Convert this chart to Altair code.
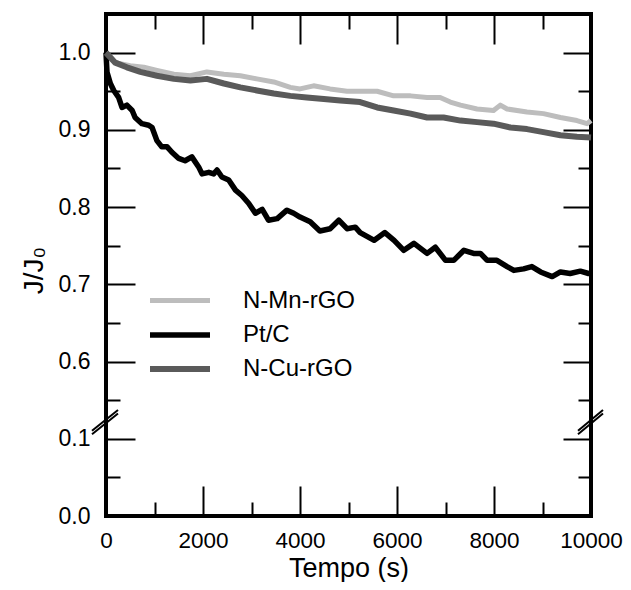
import altair as alt
import pandas as pd

# ---- data ----
t_mn = [0, 190, 500, 780, 1050, 1400, 1740, 2080, 2430, 2770, 3110, 3460, 3800, 4000,
        4280, 4620, 4970, 5240, 5590, 5930, 6280, 6620, 6890, 7100, 7310, 7650, 7990,
        8130, 8270, 8680, 9020, 9370, 9710, 9920, 10000]
v_mn = [1.000, 0.987, 0.983, 0.981, 0.977, 0.972, 0.970, 0.975, 0.972, 0.970, 0.966,
        0.962, 0.955, 0.953, 0.957, 0.953, 0.950, 0.950, 0.950, 0.944, 0.944, 0.942,
        0.942, 0.936, 0.932, 0.927, 0.925, 0.932, 0.927, 0.923, 0.921, 0.916, 0.912,
        0.908, 0.912]

t_pt = [0, 20, 90, 160, 260, 330, 430, 540, 600, 740, 880, 950, 1050, 1150, 1260, 1360,
        1500, 1630, 1770, 1910, 1980, 2120, 2220, 2290, 2390, 2530, 2670, 2800, 2940,
        3080, 3220, 3350, 3530, 3730, 3870, 4000, 4210, 4410, 4620, 4800, 4970, 5140,
        5240, 5530, 5750, 5940, 6140, 6350, 6620, 6790, 7000, 7170, 7380, 7580, 7720,
        7860, 8060, 8270, 8410, 8610, 8780, 8960, 9200, 9370, 9570, 9780, 9950, 10000]
v_pt = [1.000, 0.975, 0.960, 0.951, 0.942, 0.929, 0.932, 0.925, 0.916, 0.908, 0.906,
        0.903, 0.886, 0.878, 0.878, 0.871, 0.863, 0.860, 0.865, 0.852, 0.843, 0.845,
        0.843, 0.848, 0.839, 0.835, 0.822, 0.815, 0.805, 0.792, 0.797, 0.783, 0.785,
        0.796, 0.792, 0.787, 0.781, 0.769, 0.772, 0.783, 0.772, 0.774, 0.767, 0.757,
        0.767, 0.757, 0.744, 0.753, 0.740, 0.748, 0.731, 0.731, 0.744, 0.740, 0.740,
        0.731, 0.731, 0.723, 0.718, 0.720, 0.723, 0.716, 0.710, 0.716, 0.714, 0.717,
        0.714, 0.714]

t_cu = [0, 190, 430, 710, 1050, 1400, 1740, 2080, 2430, 2770, 3110, 3460, 3800, 4140,
        4490, 4830, 5240, 5590, 5930, 6280, 6620, 6960, 7310, 7650, 7990, 8340, 8680,
        9020, 9370, 9710, 10000]
v_cu = [1.000, 0.987, 0.981, 0.975, 0.970, 0.966, 0.964, 0.966, 0.960, 0.955, 0.951,
        0.947, 0.944, 0.942, 0.940, 0.938, 0.936, 0.929, 0.925, 0.921, 0.916, 0.916,
        0.912, 0.910, 0.908, 0.903, 0.901, 0.897, 0.893, 0.891, 0.890]

series = ["N-Mn-rGO", "Pt/C", "N-Cu-rGO"]
colors = ["#bdbdbd", "#000000", "#5a5a5a"]
widths = [5, 6, 4.5]

# broken axis: positions >= 0.55 are true values, the lower segment is shifted by +0.4
x_major = [0, 2000, 4000, 6000, 8000, 10000]
x_minor = [1000, 3000, 5000, 7000, 9000]
y_major = [0.4, 0.5, 0.6, 0.7, 0.8, 0.9, 1.0]
y_minor = [0.45, 0.55, 0.65, 0.75, 0.85, 0.95]
break_y1 = [0.5104, 0.5059]
break_y2 = [0.5373, 0.5328]

rows = []
for name, ts, vs in [(series[0], t_mn, v_mn), (series[1], t_pt, v_pt), (series[2], t_cu, v_cu)]:
    for t, v in zip(ts, vs):
        rows.append({"series": name, "t": t, "v": v})
df = pd.DataFrame(rows)
brk = pd.DataFrame({"y1": break_y1, "y2": break_y2})

FONT = "Liberation Sans, Arial, Helvetica, sans-serif"
W, H = 485, 502
xs = alt.Scale(domain=[0, 10000], nice=False, padding=0)
ys = alt.Scale(domain=[0.4, 1.05], nice=False, zero=False)

lines = alt.Chart(df).mark_line(strokeJoin="round").encode(
    x=alt.X("t:Q", scale=xs, axis=alt.Axis(
        orient="bottom", values=x_major, ticks=False, tickSize=0, labelPadding=13,
        labelFlush=False, labelOverlap=False,
        format="d", labelFontSize=22.5, title="Tempo (s)", titleFontSize=27,
        titleFontWeight="normal", titleBaseline="alphabetic", titleY=60)),
    y=alt.Y("v:Q", scale=ys, axis=alt.Axis(
        orient="left", values=y_major, ticks=False, tickSize=0, labelPadding=16,
        labelFontSize=23, labelFlush=False, labelOverlap=False,
        labelExpr="datum.value < 0.45 ? '0.0' : (datum.value < 0.55 ? '0.1' : format(datum.value, '.1f'))",
        title="J/J₀", titleFontSize=28, titleFontWeight="normal", titlePadding=10,
        titleY=256)),
    color=alt.Color("series:N", scale=alt.Scale(domain=series, range=colors),
                    legend=alt.Legend(title=None, orient="none", legendX=61, legendY=274,
                                      symbolType="M-3,0H3", symbolSize=400,
                                      symbolStrokeWidth=5, labelFontSize=24,
                                      labelOffset=50, rowPadding=9, padding=0,
                                      labelColor="black", direction="vertical")),
    strokeWidth=alt.StrokeWidth("series:N", scale=alt.Scale(domain=series, range=widths),
                                legend=None),
)


def tick_layer(xvals, yvals, xlen, ylen, xorient, yorient):
    return alt.Chart(df).mark_point(opacity=0).encode(
        x=alt.X("t:Q", scale=xs, title=None, axis=alt.Axis(
            orient=xorient, values=xvals, offset=-xlen, tickSize=xlen, labels=False,
            tickWidth=2, tickColor="black")),
        y=alt.Y("v:Q", scale=ys, title=None, axis=alt.Axis(
            orient=yorient, values=yvals, offset=-ylen, tickSize=ylen, labels=False,
            tickWidth=2, tickColor="black")),
    )


ticks_bl_major = tick_layer(x_major, y_major, 30, 29, "bottom", "left")
ticks_bl_minor = tick_layer(x_minor, y_minor, 14, 14, "bottom", "left")
ticks_tr_major = tick_layer(x_major, y_major, 30, 28, "top", "right")
ticks_tr_minor = tick_layer(x_minor, y_minor, 15, 13, "top", "right")

left_break = alt.Chart(brk).mark_rule(strokeWidth=2, color="black").encode(
    x=alt.value(-14), x2=alt.value(12),
    y=alt.Y("y1:Q", scale=ys, axis=None), y2="y2:Q")
right_break = alt.Chart(brk).mark_rule(strokeWidth=2, color="black").encode(
    x=alt.value(W - 13), x2=alt.value(W + 12),
    y=alt.Y("y1:Q", scale=ys, axis=None), y2="y2:Q")

chart = alt.layer(
    ticks_bl_major, ticks_bl_minor, ticks_tr_major, ticks_tr_minor,
    lines, left_break, right_break
).resolve_axis(x="independent", y="independent").properties(
    width=W, height=H,
    padding={"left": 98, "top": 6, "right": 32, "bottom": 66},
    autosize=alt.AutoSizeParams(type="none"),
    background="white",
).configure_view(stroke="black", strokeWidth=4).configure_axis(
    labelFont=FONT, titleFont=FONT, labelColor="black", titleColor="black",
    domain=False, grid=False,
).configure_legend(labelFont=FONT)

chart.save("out.html", embed_options={"renderer": "svg", "actions": False})
